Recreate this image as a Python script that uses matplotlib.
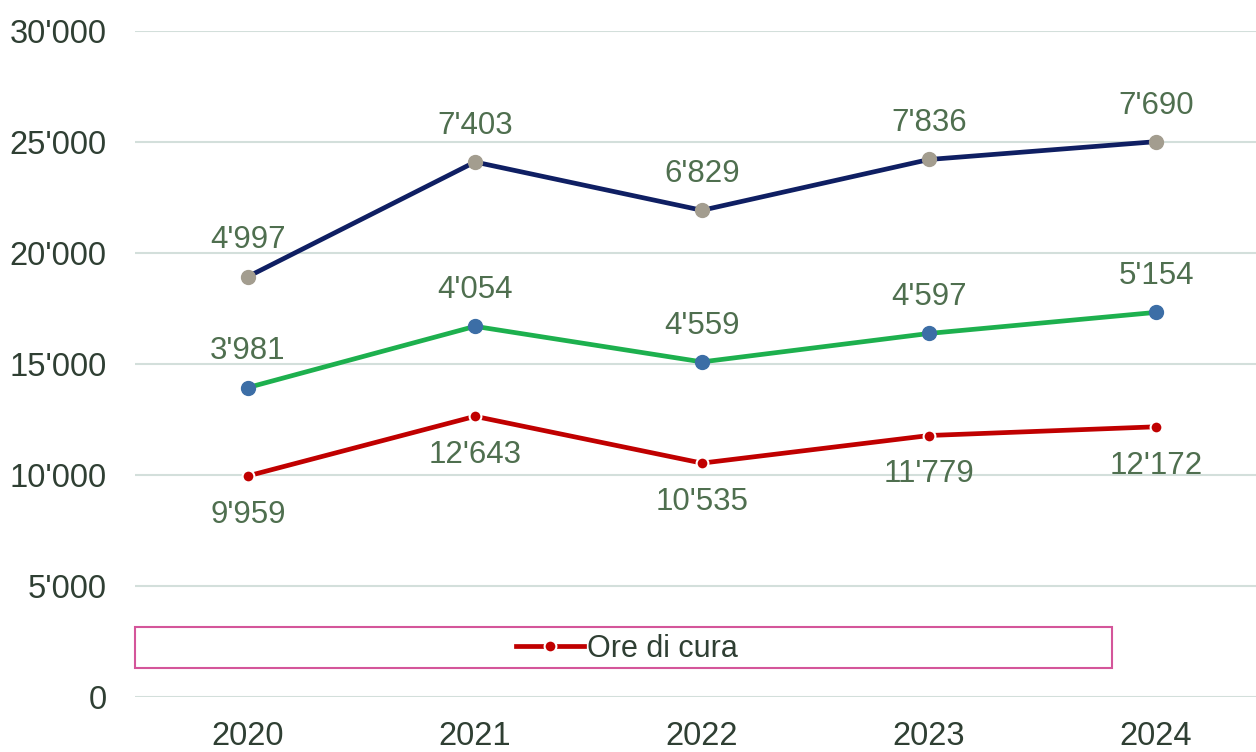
import matplotlib.pyplot as plt
import numpy as np
from matplotlib.patches import Rectangle

plt.rcParams['font.family'] = ['Liberation Sans', 'DejaVu Sans']

years = ['2020', '2021', '2022', '2023', '2024']
ore_cura = [9959, 12643, 10535, 11779, 12172]
serie_2 = [3981, 4054, 4559, 4597, 5154]
serie_3 = [4997, 7403, 6829, 7836, 7690]
y_ticks = [0, 5000, 10000, 15000, 20000, 25000, 30000]


def fmt(v):
    return f"{v:,}".replace(',', "'")


# stacked lines
s1 = np.array(ore_cura)
s2 = s1 + np.array(serie_2)
s3 = s2 + np.array(serie_3)

fig = plt.figure(figsize=(12.56, 7.52), dpi=100)
ax = fig.add_axes([134.5 / 1256, 55 / 752, 1135 / 1256, 666 / 752])

x = np.arange(len(years))
label_col = '#4f6f4f'

ax.plot(x, s3, color='#0f1f63', lw=3.4, marker='o', ms=10,
        mfc='#a39d8f', mec='#a39d8f', zorder=3)
ax.plot(x, s2, color='#1db04e', lw=3.4, marker='o', ms=10,
        mfc='#3c6ea6', mec='#3c6ea6', zorder=3)
line_red, = ax.plot(x, s1, color='#c00000', lw=3.4, marker='o', ms=8.5,
                    mfc='#c00000', mec='white', mew=1.5, zorder=3,
                    label='Ore di cura')

for xi, yi, v in zip(x, s3, serie_3):
    ax.annotate(fmt(v), (xi, yi), xytext=(0, 26), textcoords='offset points',
                ha='center', va='center', fontsize=22.5, color=label_col)
for xi, yi, v in zip(x, s2, serie_2):
    ax.annotate(fmt(v), (xi, yi), xytext=(0, 26), textcoords='offset points',
                ha='center', va='center', fontsize=22.5, color=label_col)
for xi, yi, v in zip(x, s1, ore_cura):
    ax.annotate(fmt(v), (xi, yi), xytext=(0, -28), textcoords='offset points',
                ha='center', va='center', fontsize=22.5, color=label_col)

ax.set_xlim(-0.5, 4.5)
ax.set_ylim(0, 30000)
ax.set_yticks(y_ticks)
ax.set_yticklabels([fmt(t) for t in y_ticks])
ax.set_xticks(x)
ax.set_xticklabels(years)
ax.tick_params(axis='both', length=0, labelsize=23.5, labelcolor='#2f3f33')
ax.tick_params(axis='y', pad=20)
ax.tick_params(axis='x', pad=17)
ax.grid(axis='y', color='#d3dfdb', lw=1.5)
ax.set_axisbelow(True)
for sp in ax.spines.values():
    sp.set_visible(False)

# legend box
fig.patches.append(Rectangle((135 / 1256, (752 - 668) / 752), 977 / 1256, 41 / 752,
                             transform=fig.transFigure, fill=False,
                             edgecolor='#d4559a', lw=1.5))
fig.legend(handles=[line_red], loc='center', bbox_to_anchor=(627 / 1256, (752 - 649) / 752),
           frameon=False, fontsize=22, handlelength=2.2, handletextpad=0.1,
           labelcolor='#2f3f33')

fig.savefig('out.png', dpi=100)
